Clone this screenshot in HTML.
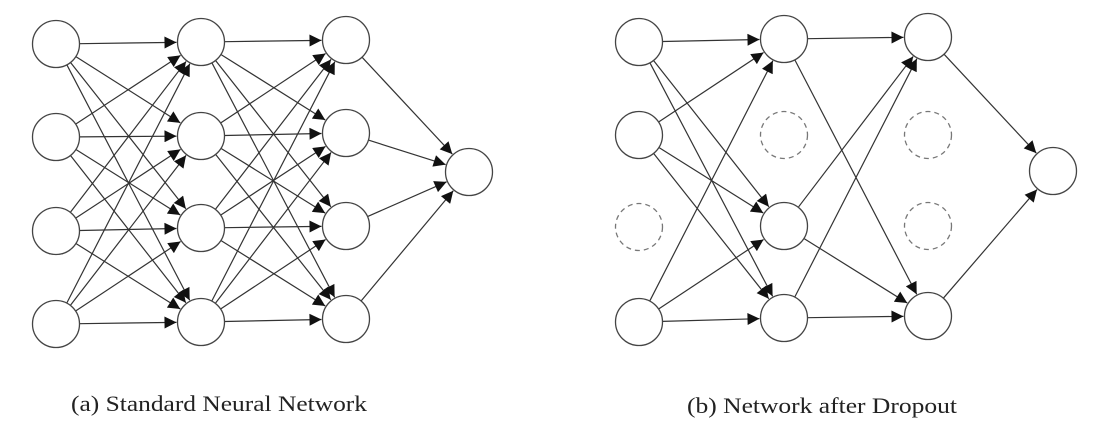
<!DOCTYPE html>
<html><head><meta charset="utf-8">
<style>html,body{margin:0;padding:0;background:#fff;}svg{display:block;}</style>
</head><body>
<svg id="s" width="1102" height="433" viewBox="0 0 1102 433" xmlns="http://www.w3.org/2000/svg">
<defs>
<marker id="a" viewBox="0 0 10 10" refX="10" refY="5" markerWidth="14" markerHeight="12" markerUnits="userSpaceOnUse" orient="auto">
<path d="M0,0 L10,5 L0,10 z" fill="#111"/>
</marker>
</defs>
<g id="edges" stroke="#333" stroke-width="1.2" fill="none"></g>
<g id="nodes" stroke="#444" stroke-width="1.3" fill="#fff"></g>
<text x="71" y="411" font-family="Liberation Serif, serif" font-size="22" fill="#222" textLength="296" lengthAdjust="spacingAndGlyphs">(a) Standard Neural Network</text>
<text x="687" y="413" font-family="Liberation Serif, serif" font-size="22" fill="#222" textLength="270" lengthAdjust="spacingAndGlyphs">(b) Network after Dropout</text>
</svg>
<script>
var NS="http://www.w3.org/2000/svg",R=23.5;
var E=document.getElementById("edges"),N=document.getElementById("nodes");
function circ(p,d){var c=document.createElementNS(NS,"circle");c.setAttribute("cx",p[0]);c.setAttribute("cy",p[1]);c.setAttribute("r",R);if(d){c.setAttribute("stroke-dasharray","5,4");c.setAttribute("stroke","#777");}N.appendChild(c);}
function edge(p,q){var dx=q[0]-p[0],dy=q[1]-p[1],L=Math.sqrt(dx*dx+dy*dy),ux=dx/L,uy=dy/L;var l=document.createElementNS(NS,"line");l.setAttribute("x1",p[0]+ux*R);l.setAttribute("y1",p[1]+uy*R);l.setAttribute("x2",q[0]-ux*(R+1));l.setAttribute("y2",q[1]-uy*(R+1));l.setAttribute("marker-end","url(#a)");E.appendChild(l);}
// left
var A=[[56,44],[56,137],[56,231],[56,324]],B=[[201,42],[201,136],[201,228],[201,322]],C=[[346,40],[346,133],[346,226],[346,319]],O=[469,172];
A.forEach(function(p){B.forEach(function(q){edge(p,q);});});
B.forEach(function(p){C.forEach(function(q){edge(p,q);});});
C.forEach(function(p){edge(p,O);});
A.concat(B,C,[O]).forEach(function(p){circ(p);});
// right
var a=[[639,42],[639,135],[639,227],[639,322]],b=[[784,39],[784,135],[784,226],[784,318]],c=[[928,37],[928,135],[928,226],[928,316]],o=[1053,171];
[0,1,3].forEach(function(i){[0,2,3].forEach(function(j){edge(a[i],b[j]);});});
[0,2,3].forEach(function(i){[0,3].forEach(function(j){edge(b[i],c[j]);});});
[0,3].forEach(function(i){edge(c[i],o);});
circ(a[0]);circ(a[1]);circ(a[2],1);circ(a[3]);
circ(b[0]);circ(b[1],1);circ(b[2]);circ(b[3]);
circ(c[0]);circ(c[1],1);circ(c[2],1);circ(c[3]);
circ(o);
</script>
</body></html>
